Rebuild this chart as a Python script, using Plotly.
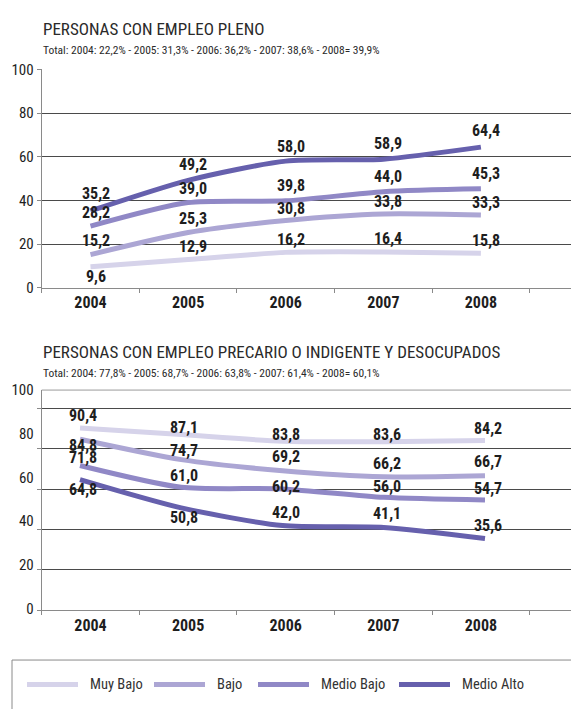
import plotly.graph_objects as go

# ---- data -------------------------------------------------------------
years = ["2004", "2005", "2006", "2007", "2008"]
series_names = ["Muy Bajo", "Bajo", "Medio Bajo", "Medio Alto"]

pleno_muy_bajo = [9.6, 12.9, 16.2, 16.4, 15.8]
pleno_bajo = [15.2, 25.3, 30.8, 33.8, 33.3]
pleno_medio_bajo = [28.2, 39.0, 39.8, 44.0, 45.3]
pleno_medio_alto = [35.2, 49.2, 58.0, 58.9, 64.4]

precario_muy_bajo = [90.4, 87.1, 83.8, 83.6, 84.2]
precario_bajo = [84.8, 74.7, 69.2, 66.2, 66.7]
precario_medio_bajo = [71.8, 61.0, 60.2, 56.0, 54.7]
precario_medio_alto = [64.8, 50.8, 42.0, 41.1, 35.6]

title_top = "PERSONAS CON EMPLEO PLENO"
subtitle_top = "Total: 2004: 22,2% - 2005: 31,3% - 2006: 36,2% - 2007: 38,6% - 2008= 39,9%"
title_bottom = "PERSONAS CON EMPLEO PRECARIO O INDIGENTE Y DESOCUPADOS"
subtitle_bottom = "Total: 2004: 77,8% - 2005: 68,7% - 2006: 63,8% - 2007: 61,4% - 2008= 60,1%"

y_ticks = [0, 20, 40, 60, 80, 100]

# ---- styling ----------------------------------------------------------
W, H = 571, 709
colors = ["#d6d3ea", "#aca6d4", "#9088c6", "#6660ad"]
NARROW = "Roboto Condensed, Liberation Sans Narrow, DejaVu Sans Condensed, sans-serif"
GRID = "#4a4a4a"
AXIS = "#8a8a8a"

# vertical offsets (px) of value labels relative to their point
top_label_dy = [
    [-10, 13, 13, 13, 13],
    [14, 14, 12, 12, 13],
    [14, 14, 15, 15, 15],
    [17, 16, 15, 16, 17],
]
bottom_label_dy = [
    [12, 7, 7, 7, 12],
    [-6, 9, 14, 13, 14],
    [8, 12, 2, 11, 11],
    [-10, -10, 13, 14, 13],
]

# key layout (pixels): where each key swatch starts, swatch length, text gap
key_x = [27, 154, 258, 399]
key_len = 51
key_gap = 10
key_row = 693


def py(px):
    """pixel row -> paper fraction"""
    return 1 - px / H


def px_x(px):
    return px / W


x_left = 41.7
top_plot = (62, 286)
bot_plot = (391, 617)

top_series = [pleno_muy_bajo, pleno_bajo, pleno_medio_bajo, pleno_medio_alto]
bot_series = [precario_muy_bajo, precario_bajo, precario_medio_bajo, precario_medio_alto]

idx = list(range(len(years)))

fig = go.Figure()

for i, (name, vals) in enumerate(zip(series_names, top_series)):
    fig.add_trace(go.Scatter(
        x=idx, y=vals, name=name, mode="lines",
        line=dict(color=colors[i], width=5, shape="spline", smoothing=0.7),
        xaxis="x", yaxis="y", showlegend=False, hoverinfo="skip",
    ))

for i, (name, vals) in enumerate(zip(series_names, bot_series)):
    fig.add_trace(go.Scatter(
        x=idx, y=vals, name=name, mode="lines",
        line=dict(color=colors[i], width=5, shape="spline", smoothing=0.7),
        xaxis="x4", yaxis="y3", showlegend=False, hoverinfo="skip",
    ))

# empty traces so the lower panel's category axis and tick-label axis are drawn
for ya in ["y3", "y4"]:
    fig.add_trace(go.Scatter(x=[None], y=[None], xaxis="x3", yaxis=ya,
                             showlegend=False, hoverinfo="skip", mode="lines"))

annotations = []
shapes = []
label_font = dict(family=NARROW, size=16, color="#1e1e1e", weight="bold")
for i, vals in enumerate(top_series):
    for j, v in enumerate(vals):
        annotations.append(dict(
            x=j, y=v, xref="x", yref="y", text=f"{v:.1f}".replace(".", ","),
            showarrow=False, font=label_font, xanchor="center", yanchor="middle",
            xshift=5, yshift=top_label_dy[i][j],
        ))
for i, vals in enumerate(bot_series):
    for j, v in enumerate(vals):
        annotations.append(dict(
            x=j, y=v, xref="x4", yref="y3", text=f"{v:.1f}".replace(".", ","),
            showarrow=False, font=label_font, xanchor="center", yanchor="middle",
            xshift=3, yshift=bottom_label_dy[i][j],
        ))

# titles
for text, row, size in [(title_top, 21, 17), (subtitle_top, 42, 11.5),
                        (title_bottom, 352, 17), (subtitle_bottom, 373, 11.5)]:
    annotations.append(dict(
        x=px_x(x_left - 1), y=py(row), xref="paper", yref="paper", text=text,
        showarrow=False, xanchor="left", yanchor="middle",
        font=dict(family=NARROW, size=size, color="#2a2a2a"),
    ))

# key at the bottom: swatch + series name
for i, name in enumerate(series_names):
    x0 = key_x[i]
    shapes.append(dict(
        type="line", xref="paper", yref="paper",
        x0=px_x(x0), x1=px_x(x0 + key_len), y0=py(key_row), y1=py(key_row),
        line=dict(color=colors[i], width=5),
    ))
    annotations.append(dict(
        x=px_x(x0 + key_len + key_gap), y=py(key_row), xref="paper", yref="paper",
        text=name, showarrow=False, xanchor="left", yanchor="middle",
        font=dict(family=NARROW, size=14.5, color="#333"),
    ))

# frame line across the top of the lower panel
shapes.append(dict(type="line", xref="paper", yref="paper",
                   x0=px_x(x_left), x1=1, y0=py(bot_plot[0]), y1=py(bot_plot[0]),
                   line=dict(color="#9a9a9a", width=1)))
# key box
shapes.append(dict(type="rect", xref="paper", yref="paper",
                   x0=px_x(12), x1=1.05, y0=-0.05, y1=py(668),
                   line=dict(color="#8a8a8a", width=1), fillcolor="rgba(0,0,0,0)"))

x_dom = [px_x(x_left), 1]
cat_range = [-0.5, -0.5 + (W - x_left) / 97.6]

xaxis_common = dict(
    tickmode="array", tickvals=idx, ticktext=years, ticks="",
    tickfont=dict(family=NARROW, size=16, color="#1e1e1e", weight="bold"),
    showgrid=False, zeroline=False, showline=True, linecolor=AXIS, linewidth=1,
    minor=dict(tickmode="array", tickvals=[k - 0.5 for k in range(6)],
               ticks="outside", ticklen=4, tickcolor=AXIS, showgrid=False),
    fixedrange=True,
)
ytick_font = dict(family=NARROW, size=15, color="#1e1e1e")

fig.update_layout(
    width=W, height=H,
    margin=dict(l=0, r=0, t=0, b=0),
    paper_bgcolor="white", plot_bgcolor="white",
    font=dict(family=NARROW, color="#222"),
    showlegend=False,
    xaxis=dict(domain=x_dom, range=cat_range, anchor="y", **xaxis_common),
    yaxis=dict(
        domain=[py(top_plot[1]), py(top_plot[0])], range=[0, 100], anchor="x",
        tickvals=y_ticks, ticks="outside", ticklen=4, tickcolor=AXIS,
        tickfont=ytick_font,
        showgrid=True, gridcolor=GRID, gridwidth=1, zeroline=False,
        showline=True, linecolor=AXIS, linewidth=1, fixedrange=True,
    ),
    xaxis3=dict(domain=x_dom, range=cat_range, anchor="y3", **xaxis_common),
    xaxis4=dict(
        domain=x_dom, overlaying="x3", anchor="y3",
        range=[-(80 - x_left) / 101.25, (W - 80) / 101.25],
        visible=False, fixedrange=True,
    ),
    yaxis3=dict(
        domain=[py(bot_plot[1]), py(bot_plot[0])],
        range=[0, (bot_plot[1] - bot_plot[0]) / 2.07], anchor="x3",
        tickvals=y_ticks, ticks="outside", ticklen=4, tickcolor=AXIS,
        showticklabels=False,
        showgrid=True, gridcolor=GRID, gridwidth=1, zeroline=False,
        showline=True, linecolor=AXIS, linewidth=1, fixedrange=True,
    ),
    yaxis4=dict(
        overlaying="y3", anchor="x3", side="left",
        range=[-2 / 2.24, 100], tickvals=y_ticks,
        ticks="outside", ticklen=4, tickcolor="rgba(0,0,0,0)",
        tickfont=ytick_font,
        showgrid=False, zeroline=False, showline=False, fixedrange=True,
    ),
    annotations=annotations,
    shapes=shapes,
)

fig.write_html("out.html")
